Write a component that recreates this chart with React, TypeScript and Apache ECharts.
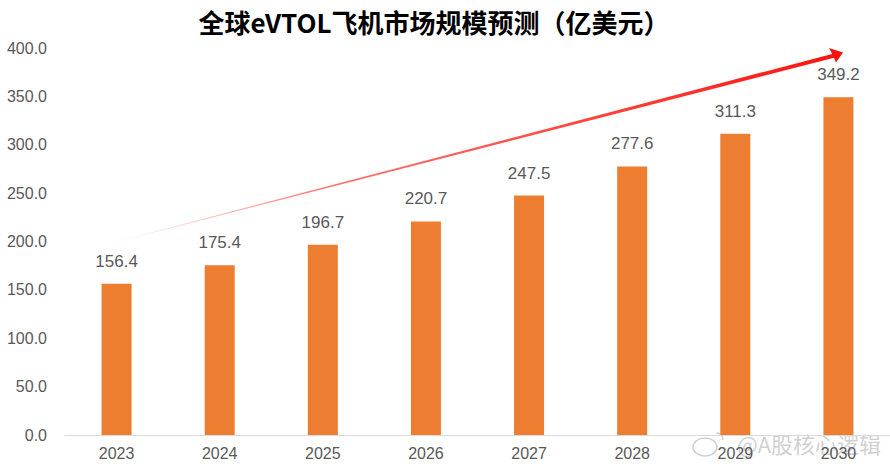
import React, { useEffect, useRef } from "react";
import * as echarts from "echarts";

const years = ["2023", "2024", "2025", "2026", "2027", "2028", "2029", "2030"];
const marketSize = [156.4, 175.4, 196.7, 220.7, 247.5, 277.6, 311.3, 349.2];
const yTicks = { min: 0, max: 400, interval: 50 };
const titleText = "全球eVTOL飞机市场规模预测（亿美元）";
const watermark = "@A股核心逻辑";

export default function App() {
  const ref = useRef<HTMLDivElement>(null);
  useEffect(() => {
    if (!ref.current) return;
    const chart = echarts.init(ref.current, undefined, { renderer: "svg" });
    chart.setOption({
      animation: false,
      backgroundColor: "#ffffff",
      title: {
        text: titleText,
        left: 429,
        textAlign: "center",
        top: 3,
        textStyle: {
          fontFamily: "Noto Sans CJK SC",
          fontWeight: "bold",
          fontSize: 26,
          color: "#000000",
        },
      },
      grid: { left: 65, top: 48, width: 841, height: 387 },
      xAxis: {
        type: "category",
        data: years,
        axisLine: { lineStyle: { color: "#d9d9d9", width: 1 } },
        axisTick: { show: false },
        axisLabel: {
          color: "#595959",
          fontSize: 16,
          margin: 10,
          fontFamily: "Liberation Sans, Arial, sans-serif",
        },
      },
      yAxis: {
        type: "value",
        min: yTicks.min,
        max: yTicks.max,
        interval: yTicks.interval,
        axisLine: { show: false },
        axisTick: { show: false },
        splitLine: { show: false },
        axisLabel: {
          color: "#595959",
          fontSize: 16,
          margin: 18,
          fontFamily: "Liberation Sans, Arial, sans-serif",
          formatter: (v: number) => v.toFixed(1),
        },
      },
      series: [
        {
          type: "bar",
          data: marketSize,
          barWidth: 30,
          itemStyle: { color: "#ED7D31" },
          label: {
            show: true,
            position: "top",
            distance: 14,
            color: "#595959",
            fontSize: 17,
            fontFamily: "Liberation Sans, Arial, sans-serif",
            formatter: (p: any) => Number(p.value).toFixed(1),
          },
        },
      ],
      graphic: [
        {
          type: "polygon",
          silent: true,
          shape: {
            points: [
              [115, 242],
              [834, 53.5],
              [835, 57.5],
              [115, 242.6],
            ],
          },
          style: {
            fill: new echarts.graphic.LinearGradient(0, 0, 1, 0, [
              { offset: 0, color: "rgba(255,40,30,0.03)" },
              { offset: 0.3, color: "rgba(255,40,30,0.65)" },
              { offset: 1, color: "rgba(250,20,15,1)" },
            ]),
          },
        },
        {
          type: "polygon",
          silent: true,
          shape: {
            points: [
              [843, 52.5],
              [829, 48],
              [833, 55.5],
              [836, 62.5],
            ],
          },
          style: { fill: "rgb(250,20,15)" },
        },
        {
          type: "text",
          silent: true,
          x: 809,
          y: 443,
          style: {
            text: watermark,
            fontSize: 22,
            fontFamily: "Noto Sans CJK SC",
            fill: "rgba(200,200,200,0.85)",
            stroke: "#ffffff",
            lineWidth: 1,
            textVerticalAlign: "middle",
            textAlign: "center",
          },
        },
        {
          type: "ellipse",
          silent: true,
          shape: { cx: 705, cy: 447, rx: 12, ry: 9 },
          style: { fill: "none", stroke: "rgba(200,200,200,0.85)", lineWidth: 1.5 },
        },
        {
          type: "arc",
          silent: true,
          shape: { cx: 716, cy: 440, r: 7, startAngle: -Math.PI / 2, endAngle: 0 },
          style: { fill: "none", stroke: "rgba(200,200,200,0.85)", lineWidth: 1.5 },
        },
      ],
    });
    return () => chart.dispose();
  }, []);
  return (
    <div
      ref={ref}
      style={{ position: "absolute", left: 0, top: 0, width: 890, height: 464 }}
    />
  );
}
